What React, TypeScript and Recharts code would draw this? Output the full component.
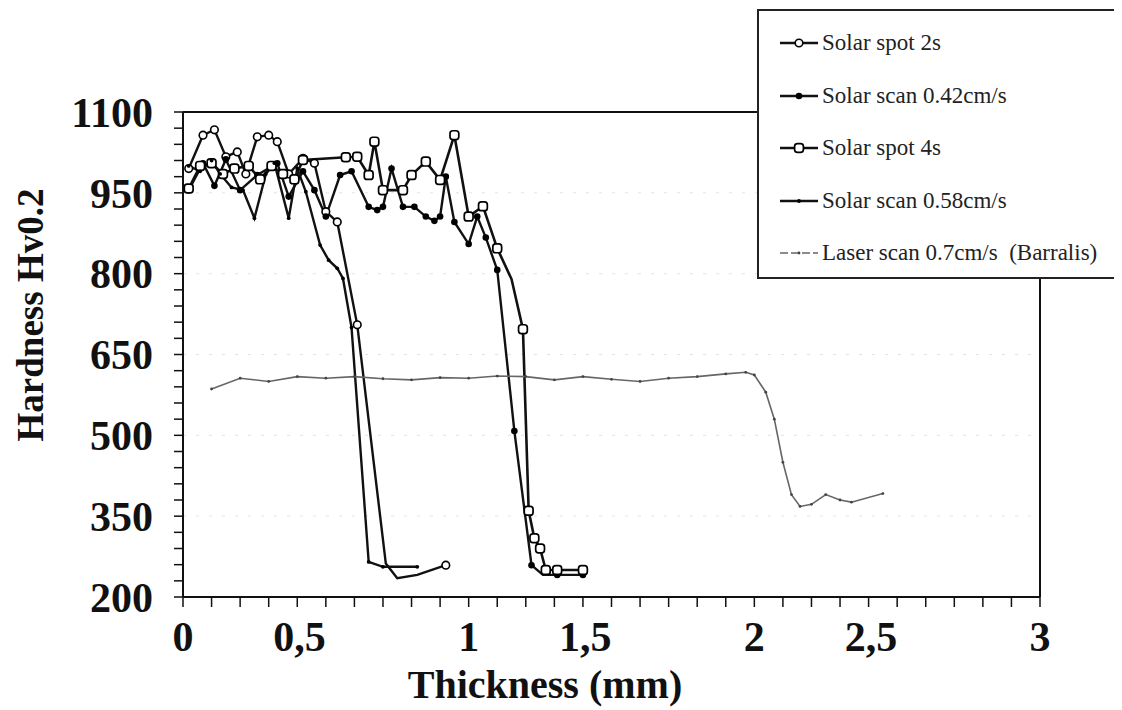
import React from "react";
import {
  LineChart,
  Line,
  XAxis,
  YAxis,
  CartesianGrid,
  ReferenceLine,
  Label,
} from "recharts";

const FONT = '"Liberation Serif", "Times New Roman", serif';

// axis ticks
const xMajor = [0, 0.5, 1, 1.5, 2, 2.5, 3];
const xTickLabels = ["0", "0,5", "1", "1,5", "2", "2,5", "3"];
const yMajor = [200, 350, 500, 650, 800, 950, 1100];
const yTickLabels = ["200", "350", "500", "650", "800", "950", "1100"];
const xMinor = Array.from({ length: 31 }, (_, i) => Number((i * 0.1).toFixed(1)));
const yMinor = Array.from({ length: 31 }, (_, i) => 200 + i * 30);
const gridValues = [350, 500, 650, 800, 950];

// Solar spot 2s (open circles)
const spot2sX = [0.02, 0.07, 0.11, 0.15, 0.19, 0.22, 0.26, 0.3, 0.33, 0.37, 0.42, 0.46, 0.5, 0.54, 0.61, 0.71, 0.75, 0.82, 0.92];
const spot2sY = [995, 1057, 1067, 1017, 1026, 985, 1054, 1057, 1045, 985, 1014, 1005, 915, 896, 705, 262, 235, 241, 259];
const spot2sTraced = [0.71, 0.75, 0.82];

// Solar scan 0.42cm/s (solid dots)
const scan042X = [0.02, 0.07, 0.11, 0.15, 0.2, 0.26, 0.33, 0.37, 0.42, 0.46, 0.5, 0.55, 0.59, 0.65, 0.68, 0.7, 0.73, 0.77, 0.81, 0.85, 0.88, 0.9, 0.92, 0.95, 1.0, 1.03, 1.06, 1.1, 1.16, 1.22, 1.26, 1.31, 1.4];
const scan042Y = [955, 1005, 963, 1012, 955, 983, 1005, 943, 990, 955, 906, 983, 990, 924, 918, 924, 995, 924, 924, 906, 898, 906, 980, 896, 855, 906, 867, 807, 508, 259, 241, 241, 241];
const scan042Traced = [1.26];

// Solar spot 4s (open squares)
const spot4sX = [0.02, 0.06, 0.1, 0.14, 0.18, 0.23, 0.27, 0.31, 0.35, 0.39, 0.42, 0.57, 0.61, 0.65, 0.67, 0.7, 0.77, 0.8, 0.85, 0.9, 0.95, 1.0, 1.05, 1.1, 1.15, 1.19, 1.21, 1.23, 1.25, 1.27, 1.31, 1.4];
const spot4sY = [958, 1000, 1005, 985, 995, 1000, 975, 1000, 985, 975, 1011, 1016, 1017, 983, 1045, 955, 955, 983, 1008, 974, 1057, 906, 925, 847, 790, 697, 360, 309, 290, 250, 250, 250];
const spot4sTraced = [1.15];

// Solar scan 0.58cm/s (small dots)
const scan058X = [0.02, 0.06, 0.1, 0.13, 0.17, 0.21, 0.25, 0.29, 0.32, 0.37, 0.4, 0.43, 0.48, 0.51, 0.54, 0.56, 0.59, 0.65, 0.7, 0.82];
const scan058Y = [1000, 990, 1010, 985, 960, 955, 903, 985, 1005, 903, 995, 952, 853, 825, 810, 791, 700, 265, 256, 256];

// Laser scan 0.7cm/s (Barralis)
const laserX = [0.1, 0.2, 0.3, 0.4, 0.5, 0.6, 0.7, 0.8, 0.9, 1.0, 1.1, 1.2, 1.3, 1.4, 1.5, 1.6, 1.7, 1.8, 1.9, 1.97, 2.0, 2.04, 2.07, 2.1, 2.13, 2.16, 2.2, 2.25, 2.3, 2.34, 2.45];
const laserY = [586, 606, 600, 609, 606, 609, 605, 603, 607, 606, 610, 609, 603, 609, 604, 600, 606, 609, 614, 617, 612, 580, 530, 450, 390, 368, 372, 390, 380, 376, 392];

const toPoints = (xs: number[], ys: number[], traced: number[] = []) =>
  xs.map((x, i) => ({ x, y: ys[i], nm: traced.includes(x) }));

type Kind = "circle" | "solid" | "square" | "small" | "laser";

function marker(kind: Kind, cx: number, cy: number, key?: any) {
  switch (kind) {
    case "circle":
      return <circle key={key} cx={cx} cy={cy} r={3.8} fill="#fff" stroke="#000" strokeWidth={1.6} />;
    case "solid":
      return <circle key={key} cx={cx} cy={cy} r={3.3} fill="#000" />;
    case "square":
      return (
        <rect key={key} x={cx - 4.4} y={cy - 4.4} width={8.8} height={8.8} rx={2.8} fill="#fff" stroke="#000" strokeWidth={1.7} />
      );
    case "small":
      return <circle key={key} cx={cx} cy={cy} r={1.9} fill="#000" />;
    default:
      return <circle key={key} cx={cx} cy={cy} r={1.4} fill="#444" />;
  }
}

const makeDot = (kind: Kind) => (p: any) => {
  const { cx, cy, payload, index } = p;
  if (cx == null || cy == null || payload?.nm) return <g key={index} />;
  return marker(kind, cx, cy, index);
};

const series = [
  { name: "Solar spot 2s", data: toPoints(spot2sX, spot2sY, spot2sTraced), kind: "circle" as Kind, color: "#111", width: 2.4 },
  { name: "Solar scan 0.42cm/s", data: toPoints(scan042X, scan042Y, scan042Traced), kind: "solid" as Kind, color: "#111", width: 2.4 },
  { name: "Solar spot 4s", data: toPoints(spot4sX, spot4sY, spot4sTraced), kind: "square" as Kind, color: "#111", width: 2.6 },
  { name: "Solar scan 0.58cm/s", data: toPoints(scan058X, scan058Y), kind: "small" as Kind, color: "#111", width: 2.4 },
  { name: "Laser scan 0.7cm/s  (Barralis)", data: toPoints(laserX, laserY), kind: "laser" as Kind, color: "#666", width: 1.6 },
];

const XTick = (props: any) => {
  const { x, y, payload } = props;
  const i = xMajor.indexOf(payload.value);
  if (i < 0) return <g />;
  const label = xTickLabels[i];
  return (
    <text x={x} y={y} dy="0.71em" textAnchor={label.includes(",") ? "end" : "middle"}
      fontFamily={FONT} fontWeight="bold" fontSize={42} fill="#111">
      {label}
    </text>
  );
};

const YTick = (props: any) => {
  const { x, y, payload } = props;
  const i = yMajor.indexOf(payload.value);
  if (i < 0) return <g />;
  return (
    <text x={x} y={y} dy="0.35em" textAnchor="end" fontFamily={FONT} fontWeight="bold" fontSize={42} fill="#111">
      {yTickLabels[i]}
    </text>
  );
};

function LegendBox() {
  return (
    <div
      style={{
        position: "absolute",
        left: 749,
        top: 1,
        width: 362,
        height: 270,
        boxSizing: "border-box",
        border: "2px solid #222",
        background: "#fff",
        paddingTop: 6,
        fontFamily: FONT,
        fontSize: 23,
        color: "#222",
      }}
    >
      {series.map((s) => (
        <div key={s.name} style={{ display: "flex", alignItems: "center", height: 52.5, paddingLeft: 19 }}>
          <svg width={42} height={16} style={{ marginRight: 2 }}>
            <line x1={2} x2={40} y1={8} y2={8} stroke={s.color} strokeWidth={s.kind === "laser" ? 1.4 : 2.4}
              strokeDasharray={s.kind === "laser" ? "8 3" : undefined} />
            {marker(s.kind, 21, 8)}
          </svg>
          <span style={{ whiteSpace: "pre", fontFamily: FONT }}>{s.name}</span>
        </div>
      ))}
    </div>
  );
}

export default function App() {
  return (
    <div style={{ position: "relative", width: 1106, height: 702 }}>
      <LineChart width={1106} height={702} margin={{ top: 104, right: 74, bottom: 0, left: 0 }}>
        <CartesianGrid horizontal vertical={false} horizontalValues={gridValues} stroke="#e2e2e2" strokeDasharray="3 10" />
        <XAxis
          dataKey="x"
          type="number"
          domain={[0, 3]}
          ticks={xMinor}
          interval={0}
          height={113}
          tickSize={10}
          tickMargin={14}
          tick={<XTick />}
          axisLine={{ stroke: "#111", strokeWidth: 2 }}
          tickLine={{ stroke: "#111", strokeWidth: 1.5 }}
          allowDataOverflow
        >
          <Label
            content={() => (
              <text x={537} y={690} textAnchor="middle" fontFamily={FONT} fontWeight="bold" fontSize={40} fill="#111">
                Thickness (mm)
              </text>
            )}
          />
        </XAxis>
        <YAxis
          type="number"
          domain={[200, 1100]}
          ticks={yMinor}
          interval={0}
          width={175}
          tickSize={9}
          tickMargin={21}
          tick={<YTick />}
          axisLine={{ stroke: "#111", strokeWidth: 2 }}
          tickLine={{ stroke: "#111", strokeWidth: 1.5 }}
          allowDataOverflow
        >
          <Label
            content={() => (
              <text transform="translate(22,307) rotate(-90)" x={0} y={0} dy="0.35em" textAnchor="middle"
                fontFamily={FONT} fontWeight="bold" fontSize={37} fill="#111">
                Hardness Hv0.2
              </text>
            )}
          />
        </YAxis>
        <ReferenceLine y={1100} stroke="#111" strokeWidth={2} />
        <ReferenceLine x={3} stroke="#111" strokeWidth={2} />
        {series.map((s) => (
          <Line
            key={s.name}
            data={s.data}
            dataKey="y"
            name={s.name}
            type="linear"
            stroke={s.color}
            strokeWidth={s.width}
            dot={makeDot(s.kind)}
            activeDot={false}
            isAnimationActive={false}
          />
        ))}
      </LineChart>
      <LegendBox />
    </div>
  );
}
